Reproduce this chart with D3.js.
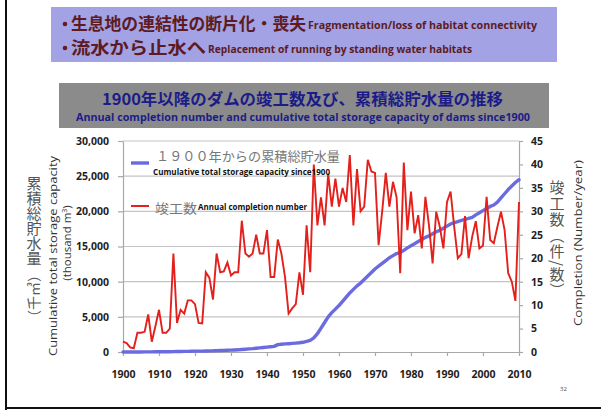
<!DOCTYPE html>
<html>
<head>
<meta charset="utf-8">
<script src="https://cdn.jsdelivr.net/npm/d3@7"></script>
<style>
  body { margin: 0; background: #fff; }
  svg { display: block; }
</style>
</head>
<body>
<svg id="chart" width="601" height="410"></svg>
<script>
// ---- data ----
const startYear = 1900;

// dams completed per year, 1900-2010
const completions = [
  2.2, 1.9, 1.0, 0.8, 4.1, 4.1, 4.3, 8.0, 2.2, 5.5,
  9.0, 4.1, 4.1, 5.0, 21.0, 6.2, 9.0, 8.2, 11.0, 11.0,
  10.2, 6.2, 6.1, 17.0, 15.8, 11.2, 21.0, 17.0, 17.2, 19.1,
  16.3, 17.0, 17.0, 28.0, 21.0, 20.3, 21.0, 25.0, 21.0, 21.0,
  26.0, 16.0, 16.0, 24.0, 21.0, 16.0, 8.2, 9.3, 10.2, 17.0,
  12.2, 27.0, 17.0, 40.0, 27.0, 33.0, 27.0, 38.0, 31.0, 37.0,
  31.0, 35.0, 32.0, 42.0, 27.0, 39.0, 30.0, 31.0, 41.0, 38.5,
  38.2, 22.8, 30.0, 38.2, 31.0, 36.3, 33.0, 16.8, 40.4, 26.0,
  34.2, 25.3, 29.2, 22.1, 33.1, 27.0, 18.9, 29.9, 26.7, 22.1,
  32.0, 34.2, 26.7, 20.0, 20.9, 29.0, 20.0, 24.6, 27.9, 22.1,
  22.7, 33.1, 23.9, 23.2, 26.7, 29.9, 26.0, 16.8, 15.0, 10.9,
  32.0
];

// cumulative total storage capacity since 1900 (thousand m3), 1900-2010
const cumulative = [
  0, 0, 5, 5, 10, 10, 15, 20, 20, 25,
  30, 35, 40, 45, 60, 65, 75, 85, 95, 110,
  120, 125, 130, 150, 165, 175, 200, 215, 230, 250,
  270, 290, 310, 360, 400, 440, 480, 540, 590, 640,
  700, 750, 800, 1050, 1100, 1150, 1180, 1220, 1260, 1310,
  1380, 1500, 1650, 2000, 2600, 3400, 4200, 5000, 5600, 6100,
  6600, 7200, 7800, 8400, 8900, 9400, 9800, 10300, 10800, 11300,
  11800, 12200, 12600, 13000, 13400, 13700, 14000, 14150, 14450, 14800,
  15100, 15400, 15700, 16000, 16300, 16500, 16800, 17100, 17300, 17600,
  17900, 18200, 18400, 18550, 18700, 18850, 19000, 19150, 19500, 19800,
  20100, 20400, 20700, 20900, 21300, 21900, 22500, 23100, 23600, 24100,
  24500
];

const leftTicks = [0, 5000, 10000, 15000, 20000, 25000, 30000];
const rightTicks = [0, 5, 10, 15, 20, 25, 30, 35, 40, 45];
const yearTicks = [1900, 1910, 1920, 1930, 1940, 1950, 1960, 1970, 1980, 1990, 2000, 2010];

const headerLines = [
  { jp: "生息地の連結性の断片化・喪失", en: "Fragmentation/loss of habitat connectivity" },
  { jp: "流水から止水へ", en: "Replacement of running by standing water habitats" }
];
const titleJp = "1900年以降のダムの竣工数及び、累積総貯水量の推移";
const titleEn = "Annual completion number and cumulative total storage capacity of dams since1900";

const legendItems = [
  { jp: "１９００年からの累積総貯水量", en: "Cumulative total storage capacity since1900" },
  { jp: "竣工数", en: "Annual completion number" }
];

// ---- drawing ----
const svg = d3.select("#chart");
const JP = "'Noto Sans CJK JP', sans-serif";
const LAT = "'Open Sans', 'Liberation Sans', sans-serif";

svg.append("rect").attr("width", 601).attr("height", 410).attr("fill", "#fff");

// slide frame
svg.append("line").attr("x1", 6).attr("y1", 0).attr("x2", 6).attr("y2", 410)
  .attr("stroke", "#111").attr("stroke-width", 2);
svg.append("line").attr("x1", 6).attr("y1", 408).attr("x2", 601).attr("y2", 408)
  .attr("stroke", "#111").attr("stroke-width", 2);

// bullet header
svg.append("rect").attr("x", 51).attr("y", 7).attr("width", 506).attr("height", 55)
  .attr("fill", "#a2a2e4");

const headerLayout = [
  { y: 30, bx: 65, jx: 71, jw: 235, ex: 308, ew: 229 },
  { y: 54, bx: 65, jx: 71, jw: 135, ex: 208, ew: 264 }
];
headerLines.forEach((h, i) => {
  const L = headerLayout[i];
  svg.append("circle").attr("cx", L.bx).attr("cy", L.y - 6).attr("r", 2.3).attr("fill", "#6a1a22");
  svg.append("text").attr("x", L.jx).attr("y", L.y)
    .attr("font-family", JP).attr("font-weight", 700).attr("font-size", 17)
    .attr("fill", "#5e1a22").attr("textLength", L.jw).attr("lengthAdjust", "spacingAndGlyphs")
    .text(h.jp);
  svg.append("text").attr("x", L.ex).attr("y", L.y - 1)
    .attr("font-family", LAT).attr("font-weight", 700).attr("font-size", 10.5)
    .attr("fill", "#5e1a22").attr("textLength", L.ew).attr("lengthAdjust", "spacingAndGlyphs")
    .text(h.en);
});

// title block
svg.append("rect").attr("x", 59).attr("y", 83).attr("width", 490).attr("height", 45)
  .attr("fill", "#8b8b8b");
svg.append("text").attr("x", 102).attr("y", 105)
  .attr("font-family", JP).attr("font-weight", 700).attr("font-size", 16)
  .attr("fill", "#1c1c88").attr("textLength", 401).attr("lengthAdjust", "spacingAndGlyphs")
  .text(titleJp);
svg.append("text").attr("x", 76).attr("y", 121)
  .attr("font-family", LAT).attr("font-weight", 700).attr("font-size", 10)
  .attr("fill", "#1c1c88").attr("textLength", 454).attr("lengthAdjust", "spacingAndGlyphs")
  .text(titleEn);

// scales
const x = d3.scaleLinear().domain([1900, 2010]).range([123, 519]);
const yL = d3.scaleLinear().domain([0, 30000]).range([352, 141]);
const yR = d3.scaleLinear().domain([0, 45]).range([352, 141]);

// gridlines
svg.append("g").selectAll("line").data(leftTicks.filter(d => d > 0)).join("line")
  .attr("x1", x(1900)).attr("x2", x(2010))
  .attr("y1", d => yL(d)).attr("y2", d => yL(d))
  .attr("stroke", "#c4c4c4").attr("stroke-width", 1.2);

function styleAxis(g) {
  g.selectAll("path.domain").attr("stroke", "#a8a8a8").attr("stroke-width", 1.2);
  g.selectAll(".tick line").attr("stroke", "#a8a8a8").attr("stroke-width", 1.2);
  g.selectAll(".tick text").attr("font-family", LAT).attr("font-weight", 700)
    .attr("font-size", 10.5).attr("fill", "#1e1e1e");
}

svg.append("g").attr("transform", `translate(${x(1900)},0)`)
  .call(d3.axisLeft(yL).tickValues(leftTicks).tickFormat(d3.format(","))
    .tickSize(5).tickSizeOuter(0).tickPadding(9))
  .call(styleAxis);

svg.append("g").attr("transform", `translate(${x(2010)},0)`)
  .call(d3.axisRight(yR).tickValues(rightTicks).tickSize(4).tickSizeOuter(0).tickPadding(8))
  .call(styleAxis);

svg.append("g").attr("transform", `translate(0,${yL(0)})`)
  .call(d3.axisBottom(x).tickValues(yearTicks).tickFormat(d3.format("d"))
    .tickSize(4).tickSizeOuter(0).tickPadding(15))
  .call(styleAxis);

// series
const cumLine = d3.line()
  .x((d, i) => x(startYear + i))
  .y(d => yL(d));
const compLine = d3.line()
  .x((d, i) => x(startYear + i))
  .y(d => yR(d));

svg.append("path").datum(cumulative).attr("d", cumLine)
  .attr("fill", "none").attr("stroke", "#6b6be0").attr("stroke-width", 3.4)
  .attr("stroke-linejoin", "round").attr("stroke-linecap", "round");
svg.append("path").datum(completions).attr("d", compLine)
  .attr("fill", "none").attr("stroke", "#e3201b").attr("stroke-width", 1.9)
  .attr("stroke-linejoin", "miter");

// legend
const legendLayout = [
  { ly: 163, color: "#6b6be0", sw: 3.4, jx: 156, jy: 161, jw: 184, jc: "#777", ex: 153, ey: 174.5, ew: 177 },
  { ly: 206, color: "#e3201b", sw: 2, jx: 155, jy: 213, jw: 42, jc: "#777", ex: 198, ey: 210, ew: 109 }
];
legendItems.forEach((it, i) => {
  const L = legendLayout[i];
  svg.append("line").attr("x1", 131).attr("x2", 149).attr("y1", L.ly).attr("y2", L.ly)
    .attr("stroke", L.color).attr("stroke-width", L.sw);
  svg.append("text").attr("x", L.jx).attr("y", L.jy)
    .attr("font-family", JP).attr("font-size", 13).attr("fill", L.jc)
    .attr("textLength", L.jw).attr("lengthAdjust", "spacingAndGlyphs").text(it.jp);
  svg.append("text").attr("x", L.ex).attr("y", L.ey)
    .attr("font-family", LAT).attr("font-weight", 700).attr("font-size", 8).attr("fill", "#111")
    .attr("textLength", L.ew).attr("lengthAdjust", "spacingAndGlyphs").text(it.en);
});

// axis titles
svg.append("text").attr("transform", "translate(34,176)")
  .attr("font-family", JP).attr("font-size", 15).attr("fill", "#555")
  .style("writing-mode", "vertical-rl")
  .text("累積総貯水量");
svg.append("text").attr("transform", "translate(39,296) rotate(-90)")
  .attr("font-family", JP).attr("font-size", 14).attr("fill", "#555")
  .attr("text-anchor", "middle").text("（千㎥）");

svg.append("text").attr("transform", "translate(57,256) rotate(-90)")
  .attr("font-family", LAT).attr("font-size", 11.5).attr("fill", "#333")
  .attr("text-anchor", "middle").attr("textLength", 200).attr("lengthAdjust", "spacingAndGlyphs")
  .text("Cumulative total storage capacity");
svg.append("text").attr("transform", "translate(71,243) rotate(-90)")
  .attr("font-family", LAT).attr("font-size", 11.5).attr("fill", "#333")
  .attr("text-anchor", "middle")
  .html("(thousand m<tspan dy='-4' font-size='7'>3</tspan><tspan dy='4'>)</tspan>");

svg.append("text").attr("transform", "translate(557,180)")
  .attr("font-family", JP).attr("font-size", 15).attr("fill", "#555")
  .attr("letter-spacing", 1)
  .style("writing-mode", "vertical-rl")
  .text("竣工数（件/数）");

svg.append("text").attr("transform", "translate(582,243) rotate(-90)")
  .attr("font-family", LAT).attr("font-size", 11.5).attr("fill", "#333")
  .attr("text-anchor", "middle").attr("textLength", 166).attr("lengthAdjust", "spacingAndGlyphs")
  .text("Completion (Number/year)");

// page number
svg.append("text").attr("x", 560).attr("y", 391)
  .attr("font-family", LAT).attr("font-size", 6).attr("fill", "#555").text("32");
</script>
</body>
</html>
